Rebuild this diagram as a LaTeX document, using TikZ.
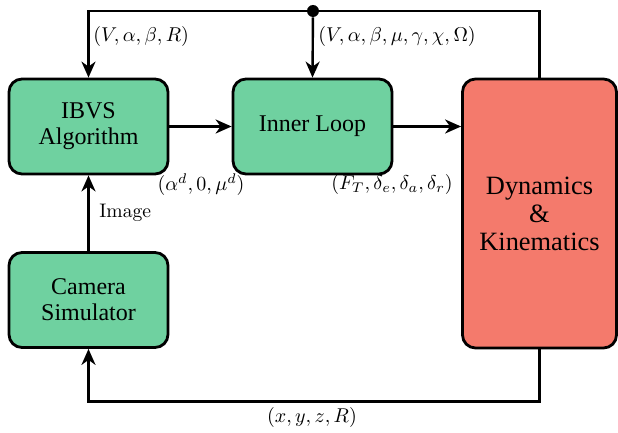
\documentclass[tikz,border=0pt]{standalone}
\usepackage{amsmath}
\usepackage{fontspec}
\usepackage{tikz}
\usetikzlibrary{shapes, positioning, arrows.meta}
\newfontfamily\blockfont{Liberation Serif}
\definecolor{blockgreen}{RGB}{111,209,160}
\definecolor{blockred}{RGB}{244,122,108}

\tikzset{
    block/.style={draw, line width=1.4pt, rounded corners=6.5pt, fill=blockgreen, align=center,
        font=\blockfont\fontsize{12}{13}\selectfont, minimum width=79.5pt, minimum height=47.5pt, inner sep=0pt},
    plant/.style={block, fill=blockred, minimum width=77pt, minimum height=134.5pt,
        font=\blockfont\fontsize{13.2}{14}\selectfont},
    signal/.style={line width=1.2pt, -{Stealth[length=8pt, width=7pt, inset=2.5pt]}},
    wire/.style={line width=1.2pt},
    lbl/.style={font=\fontsize{9.8}{12}\selectfont, inner sep=0pt},
    junction/.style={circle, fill, inner sep=0pt, minimum size=6pt},
}

\begin{document}
\begin{tikzpicture}[x=0.5pt, y=-0.5pt]
    \useasboundingbox (0,0) rectangle (618,433);

    \node[block] (ibvs) at (88.5, 126.5) {IBVS\\Algorithm};
    \node[block] (inner) at (312.5, 126.5) {Inner Loop};
    \node[block] (cam) at (88.5, 300) {Camera\\Simulator};
    \node[plant] (dyn) at (539.5, 213.5) {Dynamics\\\&\\Kinematics};
    \node[junction] (split) at (313, 11) {};

    \draw[signal] (ibvs) -- (inner);
    \draw[signal] (inner) -- (dyn.west |- inner);
    \draw[signal] (cam) -- (ibvs);
    \draw[wire] (dyn.north) |- (split);
    \draw[signal] (split) -| (ibvs.north);
    \draw[signal] (split) -- (inner.north);
    \draw[signal] (dyn.south) -- ++(0, 52) -| (cam.south);

    \node[lbl, anchor=west] (ibvsin) at (93, 37) {$(V,\alpha,\beta,R)$};
    \node[lbl, anchor=west] (innerin) at (318, 37) {$(V,\alpha,\beta,\mu,\gamma,\chi,\Omega)$};
    \node[lbl] (ibvsout) at (201, 185) {$(\alpha^d,0,\mu^d)$};
    \node[lbl] (innerout) at (392, 185) {$(F_T,\delta_e,\delta_a,\delta_r)$};
    \node[lbl, anchor=west] (imglbl) at (99, 213) {Image};
    \node[lbl] (state) at (312, 418) {$(x,y,z,R)$};
\end{tikzpicture}
\end{document}
